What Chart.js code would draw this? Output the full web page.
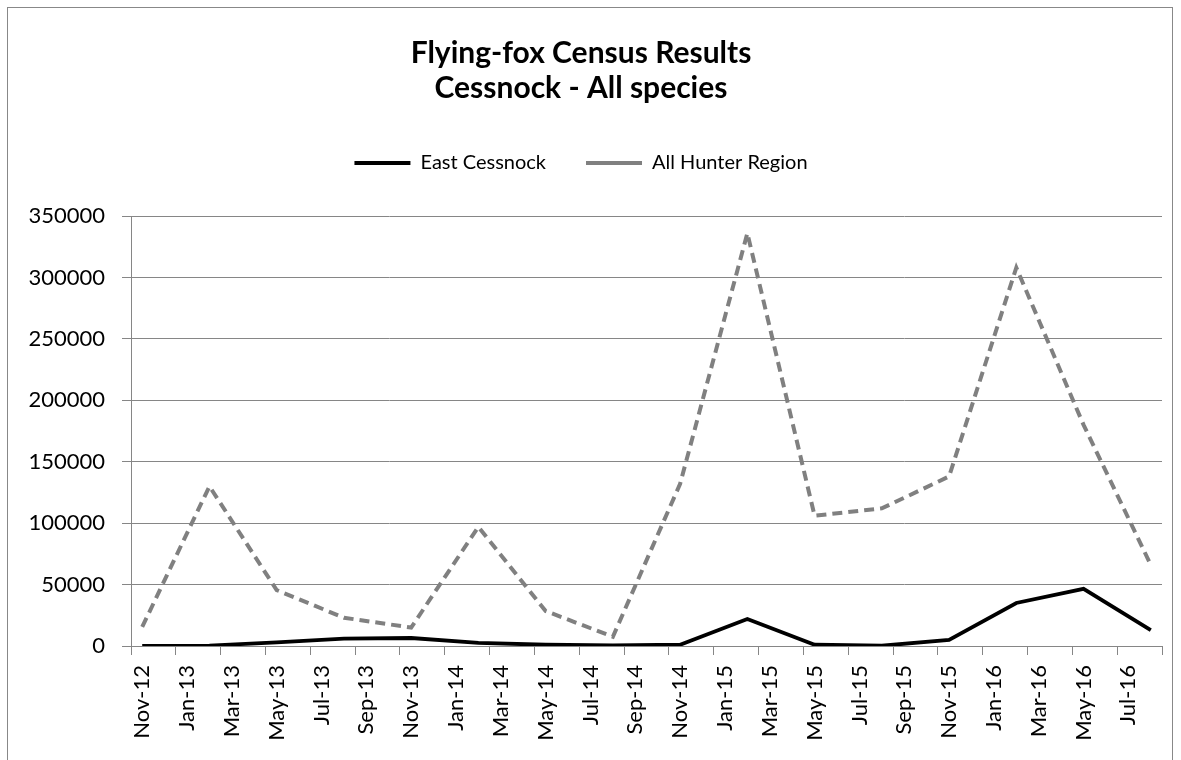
<!DOCTYPE html>
<html>
<head>
<meta charset="utf-8">
<script src="https://cdn.jsdelivr.net/npm/chart.js@4.4.1/dist/chart.umd.min.js"></script>
<style>
  html, body { margin: 0; padding: 0; background: #fff; }
  #wrap { position: relative; width: 1181px; height: 760px; }
  #frame { position: absolute; left: 7px; top: 7px; width: 1166px; height: 760px; border: 1px solid #888; box-sizing: border-box; pointer-events: none; }
</style>
</head>
<body>
<div id="wrap">
  <canvas id="censusChart" width="1181" height="760"></canvas>
  <div id="frame"></div>
</div>
<script>
// --- Data ---
const monthLabels = [
    'Nov-12', 'Dec-12',
    'Jan-13', 'Feb-13', 'Mar-13', 'Apr-13', 'May-13', 'Jun-13', 'Jul-13', 'Aug-13', 'Sep-13', 'Oct-13', 'Nov-13', 'Dec-13',
    'Jan-14', 'Feb-14', 'Mar-14', 'Apr-14', 'May-14', 'Jun-14', 'Jul-14', 'Aug-14', 'Sep-14', 'Oct-14', 'Nov-14', 'Dec-14',
    'Jan-15', 'Feb-15', 'Mar-15', 'Apr-15', 'May-15', 'Jun-15', 'Jul-15', 'Aug-15', 'Sep-15', 'Oct-15', 'Nov-15', 'Dec-15',
    'Jan-16', 'Feb-16', 'Mar-16', 'Apr-16', 'May-16', 'Jun-16', 'Jul-16', 'Aug-16'
];

// quarterly census months
const censusMonths = ['Nov-12', 'Feb-13', 'May-13', 'Aug-13', 'Nov-13', 'Feb-14', 'May-14', 'Aug-14',
                      'Nov-14', 'Feb-15', 'May-15', 'Aug-15', 'Nov-15', 'Feb-16', 'May-16', 'Aug-16'];

const eastCessnock = [0, 300, 3000, 6000, 6500, 2500, 1000, 500, 1000, 22000, 1000, 200, 5000, 35000, 46500, 13000];
const allHunter = [15500, 130000, 45500, 23000, 15000, 97000, 28500, 7500, 132000, 336000, 106000, 112000, 138000, 308000, 180000, 66000];

const yTicks = [0, 50000, 100000, 150000, 200000, 250000, 300000, 350000];

const toPoints = (vals) => censusMonths.map((m, i) => ({ x: m, y: vals[i] }));

const FONT = 'Lato, "Open Sans", sans-serif';
const GRID = '#868686';

// push the plot area down below the legend
const legendGap = {
    id: 'legendGap',
    beforeLayout(chart) {
        const lg = chart.legend;
        if (lg && !lg._gapPatched) {
            const fit = lg.fit;
            lg.fit = function () { fit.call(this); this.height += 33; };
            lg._gapPatched = true;
        }
    }
};

const ctx = document.getElementById('censusChart').getContext('2d');

new Chart(ctx, {
    type: 'line',
    data: {
        labels: monthLabels,
        datasets: [{
            label: 'East Cessnock',
            data: toPoints(eastCessnock),
            borderColor: '#000',
            backgroundColor: '#000',
            borderWidth: 3.8,
            pointRadius: 0,
            pointStyle: 'line',
            tension: 0,
            fill: false
        }, {
            label: 'All Hunter Region',
            data: toPoints(allHunter),
            borderColor: '#808080',
            backgroundColor: '#808080',
            borderWidth: 4,
            borderDash: [10, 6],
            pointRadius: 0,
            pointStyle: 'line',
            tension: 0,
            fill: false
        }]
    },
    options: {
        responsive: false,
        animation: false,
        layout: { padding: { left: 0, right: 19, top: 0, bottom: 0 } },
        plugins: {
            title: {
                display: true,
                text: ['Flying-fox Census Results', 'Cessnock - All species'],
                color: '#000',
                font: { family: FONT, size: 30, weight: 'bold', lineHeight: 35 / 30 },
                padding: { top: 35.5, bottom: 7.5 }
            },
            legend: {
                display: true,
                position: 'top',
                labels: {
                    color: '#000',
                    font: { family: FONT, size: 20 },
                    usePointStyle: true,
                    pointStyle: 'line',
                    pointStyleWidth: 56,
                    padding: 40
                }
            },
            tooltip: { enabled: false }
        },
        scales: {
            x: {
                type: 'category',
                offset: true,
                afterFit: (scale) => {
                    scale.height = 114;
                    scale.paddingLeft = 0;
                    scale.paddingRight = 0;
                },
                border: { color: GRID, width: 1 },
                grid: {
                    offset: true,
                    drawOnChartArea: false,
                    tickLength: 9,
                    color: (c) => (c.index === undefined || c.index % 2 === 0) ? GRID : 'rgba(0,0,0,0)'
                },
                ticks: {
                    autoSkip: false,
                    maxRotation: 90,
                    minRotation: 90,
                    padding: 10,
                    color: '#000',
                    font: { family: FONT, size: 22 },
                    callback: (v, i) => (i % 2 === 0 ? monthLabels[i] : '')
                }
            },
            y: {
                min: yTicks[0],
                max: yTicks[yTicks.length - 1],
                afterFit: (scale) => { scale.width = 131; },
                border: { color: GRID, width: 1 },
                grid: { color: GRID, lineWidth: 1, tickLength: 9 },
                afterBuildTicks: (scale) => { scale.ticks = yTicks.map(v => ({ value: v })); },
                ticks: {
                    padding: 17,
                    color: '#000',
                    font: { family: FONT, size: 22 },
                    callback: (v) => String(v)
                }
            }
        }
    },
    plugins: [legendGap]
});
</script>
</body>
</html>
